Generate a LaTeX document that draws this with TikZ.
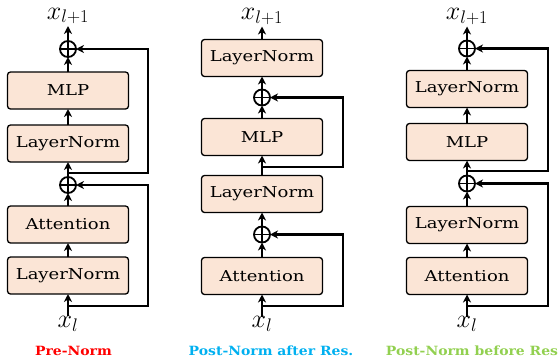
\RequirePackage{fix-cm}
\documentclass[tikz,border=0pt]{standalone}
\usepackage{fontspec}
\newfontfamily\boxfont{DejaVu Serif}[FakeStretch=1.2]
\newfontfamily\tagfont{DejaVu Serif}[FakeStretch=1.1]
\usetikzlibrary{positioning,arrows.meta}
\definecolor{boxfill}{RGB}{251,229,214}
\definecolor{prered}{RGB}{255,0,0}
\definecolor{postblue}{RGB}{0,176,240}
\definecolor{postgreen}{RGB}{146,208,80}

\begin{document}
\begin{tikzpicture}[
    x=1pt, y=-1pt,
    box/.style={rectangle, draw, line width=1.3pt, rounded corners=3pt, fill=boxfill, minimum width=121pt, minimum height=37pt, outer sep=0pt, font=\boxfont\fontsize{15}{17}\selectfont},
    add/.style={circle, draw, line width=1.8pt, minimum size=16pt, inner sep=0pt, outer sep=0pt,
        path picture={\draw[line width=1.6pt] (path picture bounding box.north) -- (path picture bounding box.south)
            (path picture bounding box.west) -- (path picture bounding box.east);}},
    flow/.style={line width=2.2pt, -{Stealth[length=8pt,width=8pt,inset=2.5pt]}},
    var/.style={font=\fontsize{26}{28}\selectfont, inner xsep=1pt, inner ysep=0pt, outer sep=0pt},
    outvar/.style={var, text depth=7pt},
    tag/.style={font=\tagfont\bfseries\fontsize{12.7}{15}\selectfont}
]
    \useasboundingbox (0,0) rectangle (559,360);

    % Pre-Norm
    \node[box] (pre_ln1) at (68,275.5) {LayerNorm};
    \node[box, above=14pt of pre_ln1] (pre_attn) {Attention};
    \node[add, above=13pt of pre_attn] (pre_add1) {};
    \node[box, above=15pt of pre_add1] (pre_ln2) {LayerNorm};
    \node[box, above=16pt of pre_ln2] (pre_mlp) {MLP};
    \node[add, above=15pt of pre_mlp] (pre_add2) {};
    \node[outvar, above=15pt of pre_add2] (pre_out) {$x_{l+1}$};
    \node[var, below=22pt of pre_ln1] (pre_in) {$x_l$};
    \coordinate (pre_s1) at (68,306);
    \coordinate (pre_s2) at (68,173);

    % Post-Norm after Res.
    \node[box] (pa_attn) at (262,276) {Attention};
    \node[add, above=15pt of pa_attn] (pa_add1) {};
    \node[box, above=14pt of pa_add1] (pa_ln1) {LayerNorm};
    \node[box, above=20pt of pa_ln1] (pa_mlp) {MLP};
    \node[add, above=13pt of pa_mlp] (pa_add2) {};
    \node[box, above=13pt of pa_add2] (pa_ln2) {LayerNorm};
    \node[outvar, above=13pt of pa_ln2] (pa_out) {$x_{l+1}$};
    \node[var, below=22pt of pa_attn] (pa_in) {$x_l$};
    \coordinate (pa_s1) at (262,306);
    \coordinate (pa_s2) at (262,167);

    % Post-Norm before Res
    \node[box] (pb_attn) at (467,276) {Attention};
    \node[box, above=14pt of pb_attn] (pb_ln1) {LayerNorm};
    \node[add, above=15pt of pb_ln1] (pb_add1) {};
    \node[box, above=15pt of pb_add1] (pb_mlp) {MLP};
    \node[box, above=16pt of pb_mlp] (pb_ln2) {LayerNorm};
    \node[add, above=14pt of pb_ln2] (pb_add2) {};
    \node[outvar, above=14pt of pb_add2] (pb_out) {$x_{l+1}$};
    \node[var, below=22pt of pb_attn] (pb_in) {$x_l$};
    \coordinate (pb_s1) at (467,306);
    \coordinate (pb_s2) at (467,171);

    % Edges
    \draw[flow] (pre_in) -- (pre_ln1);
    \draw[flow] (pre_ln1) -- (pre_attn);
    \draw[flow] (pre_attn) -- (pre_add1);
    \draw[flow] (pre_add1) -- (pre_ln2);
    \draw[flow] (pre_ln2) -- (pre_mlp);
    \draw[flow] (pre_mlp) -- (pre_add2);
    \draw[flow] (pre_add2) -- (pre_out);

    \draw[flow] (pa_in) -- (pa_attn);
    \draw[flow] (pa_attn) -- (pa_add1);
    \draw[flow] (pa_add1) -- (pa_ln1);
    \draw[flow] (pa_ln1) -- (pa_mlp);
    \draw[flow] (pa_mlp) -- (pa_add2);
    \draw[flow] (pa_add2) -- (pa_ln2);
    \draw[flow] (pa_ln2) -- (pa_out);

    \draw[flow] (pb_in) -- (pb_attn);
    \draw[flow] (pb_attn) -- (pb_ln1);
    \draw[flow] (pb_ln1) -- (pb_add1);
    \draw[flow] (pb_add1) -- (pb_mlp);
    \draw[flow] (pb_mlp) -- (pb_ln2);
    \draw[flow] (pb_ln2) -- (pb_add2);
    \draw[flow] (pb_add2) -- (pb_out);

    % Residual paths
    \draw[flow] (pre_s1) -- ++(80,0) |- (pre_add1);
    \draw[flow] (pre_s2) -- ++(80,0) |- (pre_add2);
    \draw[flow] (pa_s1) -- ++(81,0) |- (pa_add1);
    \draw[flow] (pa_s2) -- ++(81,0) |- (pa_add2);
    \draw[flow] (pb_s1) -- ++(81,0) |- (pb_add1);
    \draw[flow] (pb_s2) -- ++(81,0) |- (pb_add2);

    % Labels
    \node[tag, text=prered] (pre_tag) at (73.5,350.5) {Pre-Norm};
    \node[tag, text=postblue] (pa_tag) at (271,350.5) {Post-Norm after Res.};
    \node[tag, text=postgreen] (pb_tag) at (472,350.5) {Post-Norm before Res};
\end{tikzpicture}
\end{document}
